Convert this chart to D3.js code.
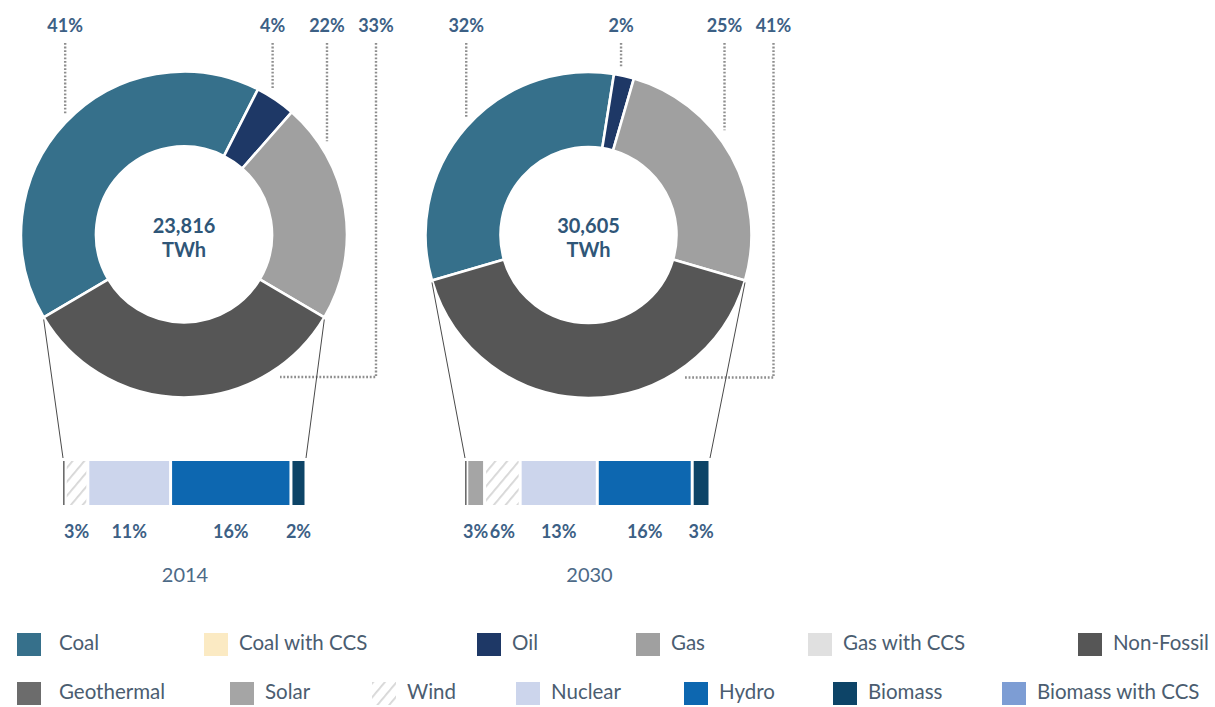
<!DOCTYPE html>
<html>
<head>
<meta charset="utf-8">
<script src="https://cdn.jsdelivr.net/npm/d3@7"></script>
<style>
  html, body { margin: 0; padding: 0; background: #ffffff; }
  svg { display: block; font-family: Lato, "Open Sans", sans-serif; }
</style>
</head>
<body>
<svg id="chart" width="1215" height="707"></svg>
<script>
// ---- data ----
const years = ["2014", "2030"];
const totalsTWh = [23816, 30605];

const mixCategories = ["Coal", "Oil", "Gas", "Non-Fossil"];
const mix2014 = [41, 4, 22, 33];
const mix2030 = [32, 2, 25, 41];

const nonFossilCategories = ["Geothermal", "Solar", "Wind", "Nuclear", "Hydro", "Biomass"];
const nonFossil2014 = [0.3, 0, 3, 11, 16, 2];
const nonFossil2030 = [0.3, 3, 6, 13, 16, 3];

const legendRow1 = ["Coal", "Coal with CCS", "Oil", "Gas", "Gas with CCS", "Non-Fossil"];
const legendRow2 = ["Geothermal", "Solar", "Wind", "Nuclear", "Hydro", "Biomass", "Biomass with CCS"];

// ---- styling ----
const colors = {
  "Coal": "#36708b",
  "Coal with CCS": "#fbeac3",
  "Oil": "#1e3866",
  "Gas": "#a0a0a0",
  "Gas with CCS": "#e0e0e0",
  "Non-Fossil": "#565656",
  "Geothermal": "#6c6c6c",
  "Solar": "#a5a5a5",
  "Wind": "url(#windHatch)",
  "Nuclear": "#ccd5ec",
  "Hydro": "#0d67b0",
  "Biomass": "#0d4467",
  "Biomass with CCS": "#7d9dd4"
};
const labelColor = "#3c6085";
const textColor = "#4b5d70";

// layout of each year's panel
const panels = [
  { cx: 184, cy: 234.5, barX: 63, barW: 243 },
  { cx: 588.5, cy: 235, barX: 465, barW: 245 }
];
const rOuter = 163, rInner = 88;
const barY = 461, barH = 44, barGap = 3;
const legendX = [[17, 204, 477, 636, 808, 1078], [17, 230, 372, 516, 684, 833, 1002]];
const legendY = [633, 682];

const svg = d3.select("#chart");
const defs = svg.append("defs");

// diagonal hatch used for Wind
const hatch = defs.append("pattern")
  .attr("id", "windHatch")
  .attr("patternUnits", "userSpaceOnUse")
  .attr("width", 9).attr("height", 9)
  .attr("patternTransform", "rotate(40)");
hatch.append("rect").attr("width", 9).attr("height", 9).attr("fill", "#ffffff");
hatch.append("line").attr("x1", 0).attr("y1", 0).attr("x2", 0).attr("y2", 9)
  .attr("stroke", "#d6d6d6").attr("stroke-width", 3.6);

const fmt = d3.format(",");
const mixes = [mix2014, mix2030];
const nonFossil = [nonFossil2014, nonFossil2030];

panels.forEach((p, i) => {
  const g = svg.append("g");
  const values = mixes[i];
  const nfShare = values[3] / d3.sum(values);
  // non-fossil slice centred at the bottom of the ring
  const start = Math.PI + nfShare * Math.PI;
  const pie = d3.pie().sort(null).value(d => d.v)
    .startAngle(start).endAngle(start + 2 * Math.PI);
  const arcs = pie(mixCategories.map((c, k) => ({ c, v: values[k] })));
  const arc = d3.arc().innerRadius(rInner).outerRadius(rOuter);

  const ring = g.append("g").attr("transform", `translate(${p.cx},${p.cy})`);
  ring.selectAll("path").data(arcs).join("path")
    .attr("d", arc)
    .attr("fill", d => colors[d.data.c])
    .attr("stroke", "#ffffff")
    .attr("stroke-width", 2.6)
    .attr("stroke-linejoin", "round");

  // centre total
  ring.append("text").attr("text-anchor", "middle").attr("y", -2)
    .attr("font-size", 20).attr("font-weight", 700).attr("fill", "#2f5678")
    .text(fmt(totalsTWh[i]));
  ring.append("text").attr("text-anchor", "middle").attr("y", 22)
    .attr("font-size", 20).attr("font-weight", 700).attr("fill", "#2f5678")
    .text("TWh");

  // dotted leaders and percentage labels above the ring
  const pt = (ang, r) => [p.cx + r * Math.sin(ang), p.cy - r * Math.cos(ang)];
  const ringTopAt = x => p.cy - Math.sqrt(Math.max(0, rOuter * rOuter - (x - p.cx) ** 2));
  const nfX = p.cx + rOuter + (i === 0 ? 29 : 22);
  const labelTop = 27;
  const leaderTop = 43;
  arcs.forEach((a, k) => {
    let x, path;
    if (k === 3) {
      x = nfX;
      const yB = p.cy + 142.5;
      path = `M${x},${leaderTop}V${yB}H${p.cx + 96}`;
    } else if (k === 2) {
      x = nfX - 49;
      path = `M${x},${leaderTop}V${ringTopAt(x) - 15}`;
    } else {
      const mid = (a.startAngle + a.endAngle) / 2;
      x = pt(mid, rOuter)[0] - (k === 1 ? 3 : 0);
      path = `M${x},${leaderTop}V${ringTopAt(x) - 9}`;
    }
    g.append("path").attr("d", path).attr("fill", "none")
      .attr("stroke", "#8e8e8e").attr("stroke-width", 2.4)
      .attr("stroke-dasharray", "1.8,1.8");
    g.append("text").attr("x", x).attr("y", labelTop).attr("text-anchor", "middle")
      .attr("dominant-baseline", "middle")
      .attr("font-size", 18).attr("font-weight", 700).attr("fill", labelColor)
      .text(a.data.v + "%");
  });

  // non-fossil breakdown bar
  const vals = nonFossil[i];
  const x = d3.scaleLinear().domain([0, d3.sum(vals)]).range([p.barX, p.barX + p.barW]);
  const segs = [];
  let cum = 0;
  nonFossilCategories.forEach((c, k) => {
    if (vals[k] > 0) segs.push({ c, v: vals[k], x0: cum });
    cum += vals[k];
  });
  const segW = d => Math.max(1.6, x(d.v) - x(0) - barGap);
  g.selectAll("rect.seg").data(segs).join("rect")
    .attr("class", "seg")
    .attr("x", d => x(d.x0) + (d.x0 > 0 ? 1.5 : 0))
    .attr("y", barY)
    .attr("width", segW)
    .attr("height", barH)
    .attr("fill", d => colors[d.c]);
  g.selectAll("text.seg").data(segs.filter(d => d.v >= 1)).join("text")
    .attr("class", "seg")
    .attr("x", d => x(d.x0) + 1.5 + segW(d) / 2)
    .attr("y", 533)
    .attr("text-anchor", "middle").attr("dominant-baseline", "middle")
    .attr("font-size", 18).attr("font-weight", 700).attr("fill", labelColor)
    .text(d => d.v + "%");

  // thin connectors from the non-fossil slice edges to the bar ends
  const nf = arcs[3];
  const left = pt(nf.endAngle, rOuter), right = pt(nf.startAngle, rOuter);
  g.append("line").attr("x1", left[0]).attr("y1", left[1] + 2)
    .attr("x2", p.barX).attr("y2", barY - 3)
    .attr("stroke", "#4a4a4a").attr("stroke-width", 1);
  g.append("line").attr("x1", right[0]).attr("y1", right[1] + 2)
    .attr("x2", p.barX + p.barW).attr("y2", barY - 3)
    .attr("stroke", "#4a4a4a").attr("stroke-width", 1);

  // year caption
  g.append("text").attr("x", p.cx + 1).attr("y", 577)
    .attr("text-anchor", "middle").attr("dominant-baseline", "middle")
    .attr("font-size", 20).attr("fill", "#4d6a87")
    .text(years[i]);
});

// legend
[legendRow1, legendRow2].forEach((row, r) => {
  const items = svg.append("g").selectAll("g").data(row).join("g")
    .attr("transform", (d, k) => `translate(${legendX[r][k]},${legendY[r]})`);
  items.append("rect").attr("width", 24).attr("height", 23)
    .attr("fill", d => colors[d]);
  items.append("text").attr("x", (d, k) => k === 0 ? 42 : 35).attr("y", 12)
    .attr("dominant-baseline", "middle")
    .attr("font-size", 20.5).attr("fill", textColor)
    .text(d => d);
});
</script>
</body>
</html>
